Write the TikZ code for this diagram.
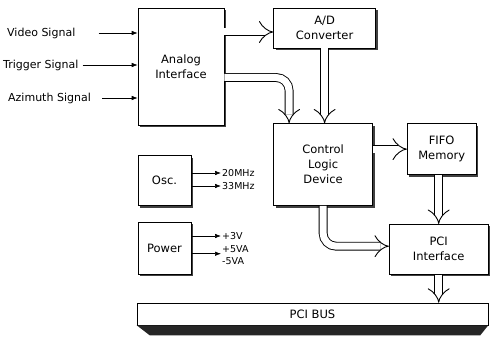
\documentclass[tikz,border=0pt]{standalone}
\usepackage{fontspec}
\setmainfont{DejaVu Sans}
\usetikzlibrary{arrows.meta,positioning,shadows}

\begin{document}
\begin{tikzpicture}[x=1pt, y=-1pt,
  plain/.style={draw, semithick, fill=white, align=center, inner sep=0pt, font=\fontsize{11.5}{15}\selectfont},
  box/.style={plain, drop shadow={shadow xshift=2.2pt, shadow yshift=-2.2pt, opacity=1, fill=black!75}},
  arr/.style={-{Latex[length=6pt, width=4.5pt]}, semithick},
  fat/.style={double, double distance=7pt, line width=0.9pt, -{Implies[length=4pt, width=11pt]}, rounded corners=13pt},
  sig/.style={anchor=west, inner sep=0pt, font=\fontsize{11}{13}\selectfont},
  volt/.style={anchor=west, inner sep=1pt, font=\fontsize{9.5}{10}\selectfont}
]
\useasboundingbox (0,0) rectangle (491,337);

\node[box, minimum width=86pt, minimum height=117pt] (analog) at (181,66.5) {Analog\\Interface};
\node[box, minimum width=102pt, minimum height=40pt, right=49pt of analog.north east, anchor=north west] (adc) {A/D\\Converter};
\node[box, minimum width=99pt, minimum height=82pt, below=75pt of adc.south west, anchor=north west] (ctrl) {Control\\Logic\\Device};
\node[box, minimum width=69pt, minimum height=51pt, right=34pt of ctrl.north east, anchor=north west] (fifo) {FIFO\\Memory};
\node[box, minimum width=99pt, minimum height=50pt, below=49pt of fifo.south, xshift=-3pt] (pci) {PCI\\Interface};
\node[box, minimum width=53pt, minimum height=50pt, below=30pt of analog.south west, anchor=north west] (osc) {Osc.};
\node[box, minimum width=53pt, minimum height=52pt, below=16pt of osc] (power) {Power};
\node[plain, minimum width=351pt, minimum height=22pt] (bus) at (312.5,314) {PCI BUS};
\fill[black!85] (bus.south west) -- (bus.south east) -- ++(-8,10) -- ([xshift=13pt, yshift=-10pt]bus.south west) -- cycle;

% input signals
\node[sig] (video) at (7,33) {Video Signal};
\node[sig] (trig) at (3,65) {Trigger Signal};
\node[sig] (azim) at (8,98) {Azimuth Signal};
\draw[arr, shorten <=23pt] (video) -- (analog.west |- video);
\draw[arr, shorten <=4pt] (trig) -- (analog.west |- trig);
\draw[arr, shorten <=11pt] (azim) -- (analog.west |- azim);

% clocks and supplies
\node[volt] (f20) at (221,173) {20MHz};
\node[volt] (f33) at (221,186) {33MHz};
\node[volt] (v3) at (221,236) {+3V};
\node[volt] (v5) at (221,249) {+5VA};
\node[volt] (vm5) at (221,261) {-5VA};
\draw[arr] (osc.east |- f20.west) -- (f20.west);
\draw[arr] (osc.east |- f33.west) -- (f33.west);
\draw[arr] (power.east |- v3.west) -- (v3.west);
\draw[arr] (power.east |- v5.south west) -- (v5.south west);

% data paths
\draw[fat] ([yshift=-4pt]analog.north east |- adc.west) -- ([yshift=-4pt]adc.west);
\draw[fat] ([yshift=-11pt]analog.east) -| ([xshift=-34pt]ctrl.north);
\draw[fat] (adc.south) -- (adc.south |- ctrl.north);
\draw[fat] (ctrl.east |- fifo.west) -- (fifo.west);
\draw[fat] (pci.north |- fifo.south) -- (pci.north);
\draw[fat] (ctrl.south) |- ([yshift=3pt]pci.west);
\draw[fat] (pci.south) -- (pci.south |- bus.north);
\end{tikzpicture}
\end{document}
